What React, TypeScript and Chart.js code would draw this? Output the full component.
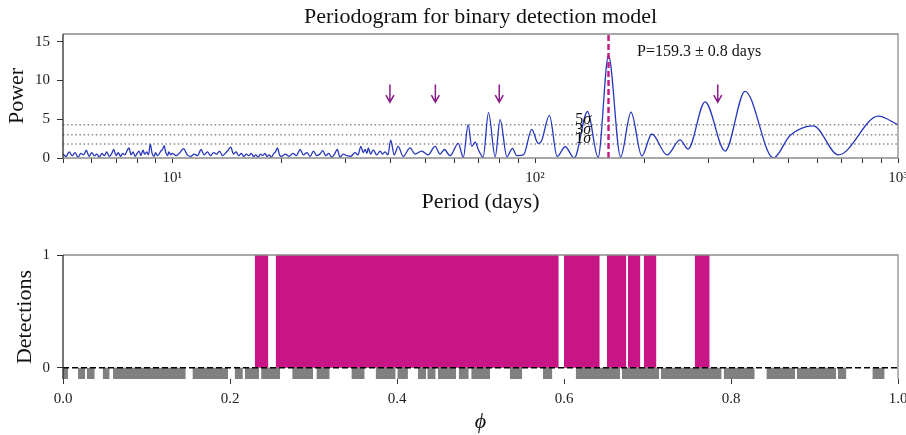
import React, { useEffect, useRef } from 'react';
import { Chart, registerables } from 'chart.js';

Chart.register(...registerables);

const FONT = "'Liberation Serif', 'DejaVu Serif', serif";
const MAGENTA = '#C71585';
const ARROW = '#8B1C8B';
const LINE_BLUE = '#2636bd';

// ---------- top panel data ----------
const chartTitle = 'Periodogram for binary detection model';
const periodMin = 5;
const periodMax = 1000;
const powerMin = 0;
const powerMax = 16;
const powerTicks = [0, 5, 10, 15];
const periodTickValues = [5, 6, 7, 8, 9, 10, 20, 30, 40, 50, 60, 70, 80, 90, 100, 200, 300, 400, 500, 600, 700, 800, 900, 1000];
const periodTickLabels: Record<number, string> = { 10: '10¹', 100: '10²', 1000: '10³' };

const noisePeriods = [
  5.0, 5.1, 5.2, 5.3, 5.4, 5.5, 5.6, 5.7, 5.8, 5.9,
  6.0, 6.1, 6.2, 6.3, 6.4, 6.5, 6.6, 6.7, 6.8, 6.9,
  7.0, 7.1, 7.2, 7.3, 7.4, 7.5, 7.6, 7.7, 7.8, 7.9,
  8.0, 8.1, 8.2, 8.3, 8.4, 8.5, 8.6, 8.7, 8.8, 8.9,
  9.0, 9.1, 9.2, 9.3, 9.4, 9.5, 9.6, 9.7, 9.8, 9.9,
  10.0, 10.25, 10.5, 10.75, 11.0, 11.25, 11.5, 11.75, 12.0, 12.25,
  12.5, 12.75, 13.0, 13.25, 13.5, 13.75, 14.0, 14.25, 14.5, 14.75,
  15.0, 15.25, 15.5, 15.75, 16.0, 16.25, 16.5, 16.75, 17.0, 17.25,
  17.5, 17.75, 18.0, 18.25, 18.5, 18.75, 19.0, 19.25, 19.5, 19.75,
  20.0, 20.5, 21.0, 21.5, 22.0, 22.5, 23.0, 23.5, 24.0, 24.5,
  25.0, 25.5, 26.0, 26.5, 27.0, 27.5, 28.0, 28.5,
];
const noisePower = [
  0.5, 0.2, 0.8, 0.3, 0.7, 0.1, 0.6, 0.4, 1.0, 0.2,
  0.7, 0.3, 0.5, 0.1, 0.6, 0.3, 0.8, 0.2, 0.5, 1.1,
  0.3, 0.7, 0.2, 0.6, 0.4, 0.9, 1.3, 0.4, 0.8, 0.2,
  0.6, 0.9, 0.3, 1.0, 0.5, 0.8, 0.4, 1.8, 0.6, 0.2,
  0.7, 0.3, 0.5, 0.9, 1.1, 1.6, 0.7, 0.3, 0.8, 0.4,
  0.6, 0.3, 0.7, 1.2, 0.4, 0.2, 0.5, 0.3, 1.1, 0.4,
  0.8, 0.3, 0.7, 0.5, 0.9, 0.3, 0.6, 1.0, 1.4, 0.5,
  0.8, 0.3, 0.6, 0.2, 0.5, 0.3, 0.6, 0.2, 0.4, 0.1,
  0.5, 0.3, 0.6, 0.2, 0.4, 0.1, 0.5, 0.8, 1.3, 0.4,
  0.2, 0.5, 0.2, 0.6, 0.3, 1.1, 0.4, 0.7, 0.2, 0.9,
  0.3, 0.5, 0.95, 0.3, 0.6, 0.1, 0.5, 1.1,
];
const peakPeriods = [
  29.0, 29.6, 30.3, 31.0, 31.9, 32.5, 33.1, 33.6, 34.0, 34.4,
  34.7, 35.2, 35.8, 36.6, 37.4, 38.0, 38.6, 39.3, 40.0, 40.9,
  41.9, 43.3, 45.2, 46.7, 48.7, 50.7, 53.0, 54.7, 56.2, 58.3,
  61.4, 63.4, 65.4, 66.9, 68.4, 69.7, 71.9, 74.4, 77.6, 80.1,
  83.6, 86.6, 89.0, 92.9, 97.9, 101.9, 103.9, 109.5, 115.0, 121.0,
  128.1, 139.5, 149.1, 159.3, 172.0, 183.8, 196.8, 209.7, 231.0, 250.8,
  263.9, 294.0, 333.8, 378.9, 453.5, 504.1, 584.6, 684.8, 882.6, 1000,
];
const peakPower = [
  0.1, 0.5, 0.3, 0.2, 0.7, 0.4, 1.5, 0.7, 1.1, 0.6,
  1.3, 0.5, 1.05, 0.4, 0.9, 0.5, 0.8, 0.4, 2.3, 0.4,
  1.5, 0.2, 1.3, 0.5, 0.9, 0.4, 1.5, 0.5, 1.1, 0.3,
  1.9, 0.1, 4.3, 1.5, 2.05, 1.1, 0.1, 5.85, 0.15, 4.96,
  0.15, 1.25, 0.3, 0.4, 3.7, 1.9, 2.1, 5.5, 0.2, 1.45,
  0.0, 6.0, 0.1, 13.2, 0.15, 5.9, 0.25, 3.1, 0.4, 2.35,
  1.15, 7.25, 0.9, 8.6, 0.0, 2.9, 4.15, 0.4, 5.4, 4.3,
];

const sigmaLevels = [4.3, 3.0, 1.8];
const sigmaDigits = ['5', '3', '1'];
const sigmaLabelPeriod = 129;
const bestPeriod = 159.3;
const periodLabel = 'P=159.3 ± 0.8 days';
const periodLabelAt = { period: 191, power: 13.2 };
const arrowPeriods = [39.8, 53.1, 79.65, 318.6];
const arrowTopPower = 9.5;
const arrowTipPower = 7.2;

// ---------- bottom panel data ----------
const phaseTicks = [0, 0.2, 0.4, 0.6, 0.8, 1.0];
const detectionTicks = [0, 1];
const detectStarts = [0.2296, 0.2547, 0.6000, 0.6515, 0.6766, 0.6955, 0.7565];
const detectEnds = [0.2460, 0.5937, 0.6428, 0.6747, 0.6915, 0.7107, 0.7745];
const coverStarts = [
  0.000, 0.018, 0.0284, 0.0475, 0.0599, 0.1550, 0.2056, 0.2176, 0.2373, 0.2745,
  0.3035, 0.3454, 0.3744, 0.4004, 0.4251, 0.4363, 0.4491, 0.4739, 0.4889, 0.5350,
  0.5748, 0.6140, 0.6691, 0.7158, 0.7912, 0.8424, 0.8787, 0.9278, 0.9693,
];
const coverEnds = [
  0.006, 0.0266, 0.0380, 0.0559, 0.1470, 0.1976, 0.2154, 0.2349, 0.2601, 0.2995,
  0.3194, 0.3613, 0.3984, 0.4131, 0.4351, 0.4463, 0.4709, 0.4859, 0.5116, 0.5500,
  0.5861, 0.6673, 0.7140, 0.7888, 0.8284, 0.8769, 0.9260, 0.9382, 0.9840,
];
const coverDepth = -0.1;

const periodogramPts = [
  ...noisePeriods.map((p, i) => ({ x: p, y: noisePower[i] })),
  ...peakPeriods.map((p, i) => ({ x: p, y: peakPower[i] })),
];

function drawFrame(chart: any, bottom: boolean) {
  const { ctx, chartArea: a } = chart;
  ctx.save();
  ctx.strokeStyle = '#8c8c8c';
  ctx.lineWidth = 1.3;
  ctx.beginPath();
  ctx.moveTo(a.left, a.top);
  ctx.lineTo(a.right, a.top);
  ctx.lineTo(a.right, a.bottom);
  if (bottom) ctx.lineTo(a.left, a.bottom);
  ctx.stroke();
  ctx.strokeStyle = '#2a2a2a';
  ctx.beginPath();
  ctx.moveTo(a.left, a.top);
  ctx.lineTo(a.left, a.bottom);
  ctx.stroke();
  ctx.restore();
}

const topDecor = {
  id: 'topDecor',
  afterDatasetsDraw(chart: any) {
    const { ctx, chartArea: a, scales } = chart;
    const x = scales.x;
    const y = scales.y;
    drawFrame(chart, true);
    ctx.save();
    ctx.strokeStyle = ARROW;
    ctx.lineWidth = 1.5;
    arrowPeriods.forEach((p) => {
      const px = x.getPixelForValue(p);
      const t = y.getPixelForValue(arrowTopPower);
      const b = y.getPixelForValue(arrowTipPower);
      ctx.beginPath();
      ctx.moveTo(px, t);
      ctx.lineTo(px, b);
      ctx.moveTo(px - 4, b - 7);
      ctx.lineTo(px, b);
      ctx.lineTo(px + 4, b - 7);
      ctx.stroke();
    });
    ctx.fillStyle = '#111';
    ctx.textAlign = 'center';
    ctx.textBaseline = 'alphabetic';
    ctx.font = `22px ${FONT}`;
    ctx.fillText(chartTitle, (a.left + a.right) / 2, 22.5);
    ctx.textAlign = 'left';
    ctx.font = `16px ${FONT}`;
    ctx.fillText(periodLabel, x.getPixelForValue(periodLabelAt.period), y.getPixelForValue(periodLabelAt.power));
    sigmaLevels.forEach((lvl, i) => {
      const sx = x.getPixelForValue(sigmaLabelPeriod);
      const sy = y.getPixelForValue(lvl) - 1;
      ctx.font = `16px ${FONT}`;
      ctx.fillText(sigmaDigits[i], sx, sy);
      const w = ctx.measureText(sigmaDigits[i]).width;
      ctx.font = `italic 16px ${FONT}`;
      ctx.fillText('σ', sx + w, sy);
    });
    ctx.restore();
  },
};

const bottomDecor = {
  id: 'bottomDecor',
  afterDatasetsDraw(chart: any) {
    drawFrame(chart, false);
  },
};

const tickFont = { family: FONT, size: 15 };
const titleFont = { family: FONT, size: 22 };

function fitX(height: number) {
  return (s: any) => {
    s.height = height;
    s.paddingLeft = 0;
    s.paddingRight = 0;
  };
}
function fitY(s: any) {
  s.width = 63;
  s.paddingTop = 0;
  s.paddingBottom = 0;
}

function topConfig(): any {
  return {
    type: 'line',
    data: {
      datasets: [
        {
          data: [{ x: bestPeriod, y: powerMin }, { x: bestPeriod, y: powerMax }],
          borderColor: MAGENTA,
          borderWidth: 2.4,
          borderDash: [6, 3],
          pointRadius: 0,
          fill: false,
        },
        {
          data: periodogramPts,
          borderColor: LINE_BLUE,
          borderWidth: 1.3,
          pointRadius: 0,
          cubicInterpolationMode: 'monotone',
          fill: false,
        },
        ...sigmaLevels.map((lvl) => ({
          data: [{ x: periodMin, y: lvl }, { x: periodMax, y: lvl }],
          borderColor: '#8a8a8a',
          borderWidth: 1.5,
          borderDash: [1.5, 2.6],
          pointRadius: 0,
          fill: false,
        })),
      ],
    },
    options: {
      responsive: false,
      animation: false,
      events: [],
      layout: { padding: { top: 34, right: 8, left: 0, bottom: 0 } },
      plugins: { legend: { display: false }, tooltip: { enabled: false } },
      scales: {
        x: {
          type: 'logarithmic',
          min: periodMin,
          max: periodMax,
          afterFit: fitX(60),
          afterBuildTicks: (s: any) => { s.ticks = periodTickValues.map((v) => ({ value: v })); },
          ticks: {
            autoSkip: false,
            maxRotation: 0,
            padding: 6,
            color: '#222',
            font: tickFont,
            callback: (v: any) => periodTickLabels[Number(v)] ?? '',
          },
          grid: { drawOnChartArea: false, drawTicks: true, tickLength: 5, tickColor: '#333', tickWidth: 1 },
          border: { display: false },
          title: { display: true, text: 'Period (days)', color: '#111', font: titleFont, padding: { top: 0, bottom: 3 } },
        },
        y: {
          type: 'linear',
          min: powerMin,
          max: powerMax,
          afterFit: fitY,
          afterBuildTicks: (s: any) => { s.ticks = powerTicks.map((v) => ({ value: v })); },
          ticks: { padding: 7, color: '#222', font: tickFont },
          grid: { drawOnChartArea: false, drawTicks: true, tickLength: 6, tickColor: '#333', tickWidth: 1 },
          border: { display: false },
          title: { display: true, text: 'Power', color: '#111', font: titleFont, padding: { top: 4, bottom: 0 } },
        },
      },
    },
    plugins: [topDecor],
  };
}

function bottomConfig(): any {
  return {
    type: 'line',
    data: {
      datasets: [
        {
          data: [{ x: phaseTicks[0], y: 0 }, { x: phaseTicks[phaseTicks.length - 1], y: 0 }],
          borderColor: '#000',
          borderWidth: 1.6,
          borderDash: [6, 3],
          pointRadius: 0,
          fill: false,
        },
        ...detectStarts.map((s, i) => ({
          data: [{ x: s, y: 1 }, { x: detectEnds[i], y: 1 }],
          borderColor: 'rgba(0,0,0,0)',
          borderWidth: 0,
          backgroundColor: MAGENTA,
          pointRadius: 0,
          fill: { value: 0 },
        })),
        ...coverStarts.map((s, i) => ({
          data: [{ x: s, y: coverDepth }, { x: coverEnds[i], y: coverDepth }],
          borderColor: 'rgba(0,0,0,0)',
          borderWidth: 0,
          backgroundColor: '#808080',
          pointRadius: 0,
          fill: { value: 0 },
        })),
      ],
    },
    options: {
      responsive: false,
      animation: false,
      events: [],
      layout: { padding: { top: 37, right: 8, left: 0, bottom: 0 } },
      plugins: { legend: { display: false }, tooltip: { enabled: false } },
      scales: {
        x: {
          type: 'linear',
          min: 0,
          max: 1,
          afterFit: fitX(56),
          afterBuildTicks: (s: any) => { s.ticks = phaseTicks.map((v) => ({ value: v })); },
          ticks: {
            autoSkip: false,
            maxRotation: 0,
            padding: 6,
            color: '#222',
            font: tickFont,
            callback: (v: any) => Number(v).toFixed(1),
          },
          grid: { drawOnChartArea: false, drawTicks: true, tickLength: 5, tickColor: '#333', tickWidth: 1 },
          border: { display: false },
          title: { display: true, text: 'ϕ', color: '#111', font: { family: FONT, size: 22, style: 'italic' }, padding: { top: 0, bottom: 0 } },
        },
        y: {
          type: 'linear',
          min: coverDepth,
          max: 1,
          afterFit: fitY,
          afterBuildTicks: (s: any) => { s.ticks = detectionTicks.map((v) => ({ value: v })); },
          ticks: { padding: 7, color: '#222', font: tickFont },
          grid: { drawOnChartArea: false, drawTicks: true, tickLength: 6, tickColor: '#333', tickWidth: 1 },
          border: { display: false },
          title: { display: true, text: 'Detections', color: '#111', font: titleFont, padding: { top: 12, bottom: 0 } },
        },
      },
    },
    plugins: [bottomDecor],
  };
}

export default function App() {
  const topRef = useRef<HTMLCanvasElement>(null);
  const botRef = useRef<HTMLCanvasElement>(null);
  useEffect(() => {
    const top = new Chart(topRef.current as HTMLCanvasElement, topConfig());
    const bot = new Chart(botRef.current as HTMLCanvasElement, bottomConfig());
    return () => {
      top.destroy();
      bot.destroy();
    };
  }, []);
  return (
    <div style={{ position: 'fixed', left: 0, top: 0, width: 906, height: 435, background: '#fff' }}>
      <canvas ref={topRef} width={906} height={218} style={{ position: 'absolute', left: 0, top: 0, width: 906, height: 218 }} />
      <canvas ref={botRef} width={906} height={217} style={{ position: 'absolute', left: 0, top: 218, width: 906, height: 217 }} />
    </div>
  );
}
